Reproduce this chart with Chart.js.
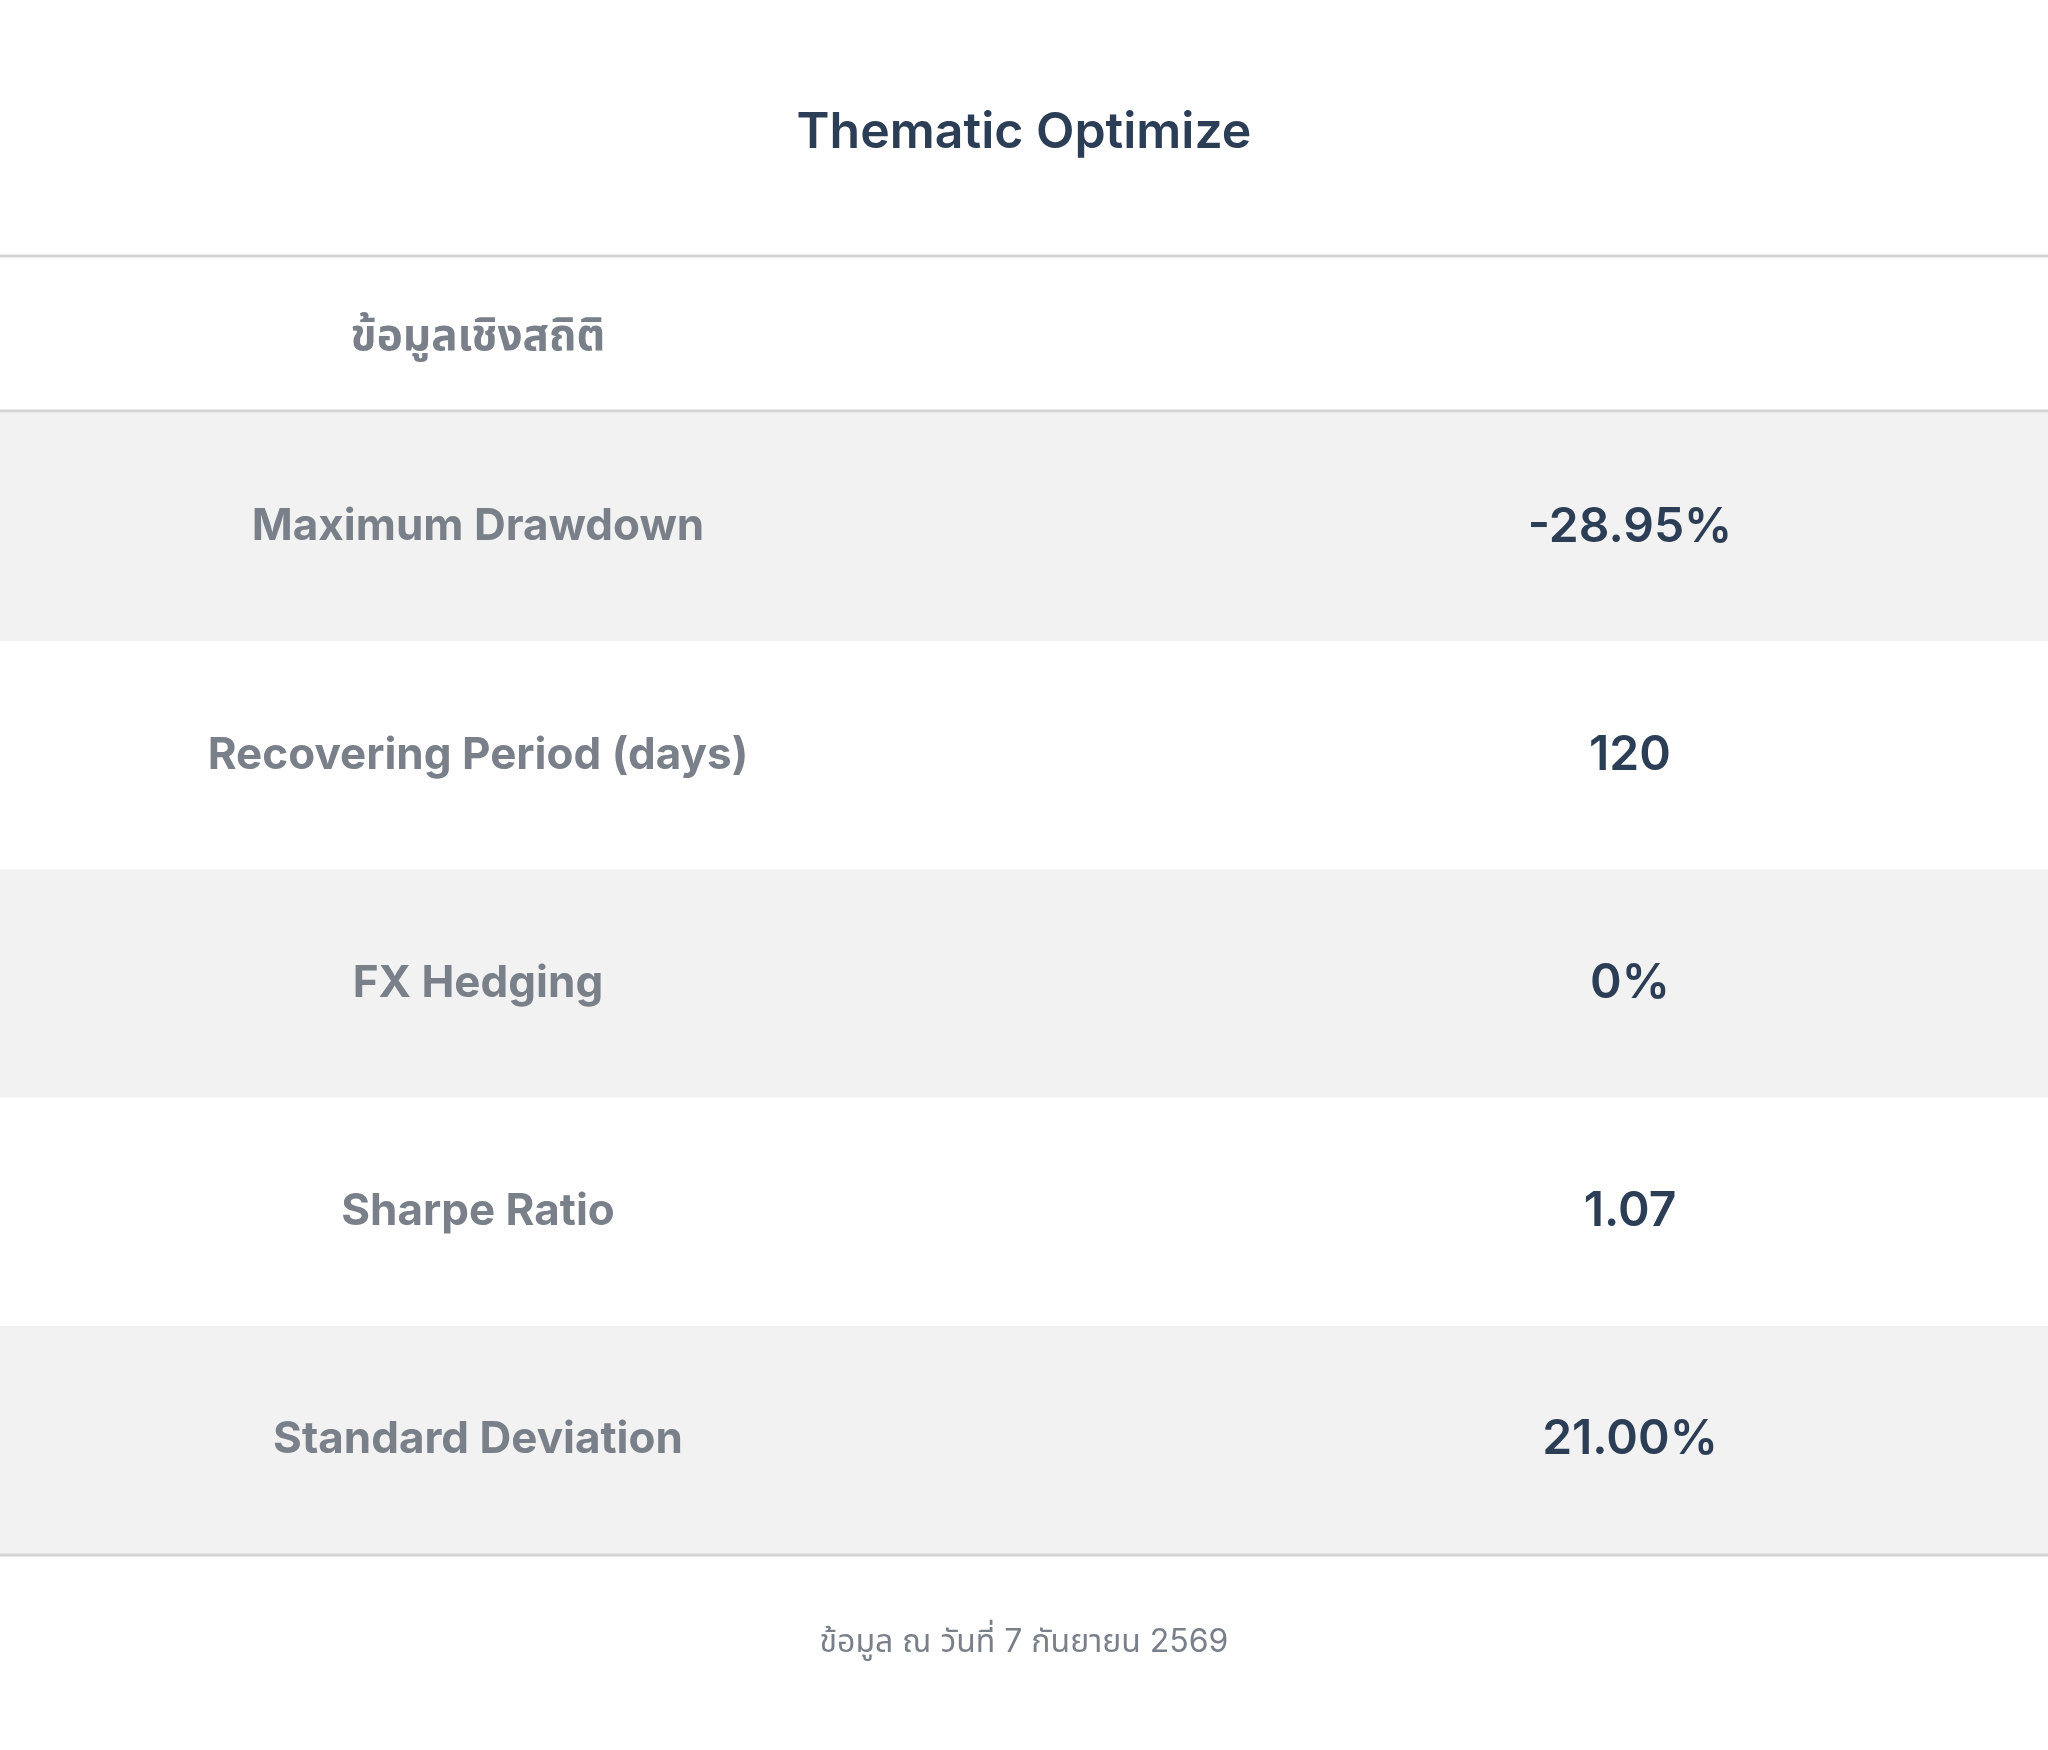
<!DOCTYPE html>
<html><head><meta charset="utf-8">
<script src="https://cdn.jsdelivr.net/npm/chart.js@4"></script>
<style>html,body{margin:0;padding:0;background:#fff}canvas{display:block}</style>
</head><body>
<canvas id="c" width="2048" height="1750"></canvas>
<script>
const title = "Thematic Optimize";
const headerLabel = "ข้อมูลเชิงสถิติ";
const metrics = ["Maximum Drawdown","Recovering Period (days)","FX Hedging","Sharpe Ratio","Standard Deviation"];
const values = ["-28.95%","120","0%","1.07","21.00%"];
const footnote = "ข้อมูล ณ วันที่ 7 กันยายน 2569";

const FONT = "Inter, 'Noto Sans', 'Noto Sans Thai', 'Liberation Sans', sans-serif";
const tablePlugin = {
  id: 'table',
  beforeDatasetsDraw(chart) {
    const ctx = chart.ctx, y = chart.scales.y, a = chart.chartArea;
    const W = chart.width;
    const step = (a.bottom - a.top) / metrics.length;
    ctx.save();
    metrics.forEach((m, i) => {
      const cy = y.getPixelForValue(i);
      if (i % 2 === 0) { ctx.fillStyle = '#f2f2f2'; ctx.fillRect(0, cy - step/2, W, step); }
      ctx.textAlign = 'center'; ctx.textBaseline = 'middle';
      ctx.fillStyle = '#7a8089'; ctx.font = `bold 44px ${FONT}`;
      ctx.fillText(m, 478, cy);
      ctx.fillStyle = '#2c3e55'; ctx.font = `600 48px ${FONT}`;
      ctx.fillText(values[i], 1630, cy);
    });
    ctx.strokeStyle = '#d4d4d4'; ctx.lineWidth = 3;
    [256, a.top - 2, a.bottom + 1].forEach(ly => { ctx.beginPath(); ctx.moveTo(0, ly); ctx.lineTo(W, ly); ctx.stroke(); });
    ctx.textAlign = 'center'; ctx.textBaseline = 'middle';
    ctx.fillStyle = '#2c3e55'; ctx.font = `600 50px ${FONT}`;
    ctx.fillText(title, 1024, 133);
    ctx.fillStyle = '#7a8089'; ctx.font = `bold 44px ${FONT}`;
    ctx.fillText(headerLabel, 478, 337);
    ctx.font = `32px ${FONT}`;
    ctx.fillText(footnote, 1024, 1642);
    ctx.restore();
  }
};
new Chart(document.getElementById('c'), {
  type: 'bar',
  data: { labels: metrics, datasets: [{ data: metrics.map(() => 0), backgroundColor: 'transparent' }] },
  options: {
    indexAxis: 'y', responsive: false, animation: false, devicePixelRatio: 1,
    layout: { padding: { top: 413, bottom: 196, left: 0, right: 0 } },
    plugins: { legend: { display: false }, tooltip: { enabled: false }, title: { display: false } },
    scales: { x: { display: false }, y: { display: false, offset: true } }
  },
  plugins: [tablePlugin]
});
</script>
</body></html>
